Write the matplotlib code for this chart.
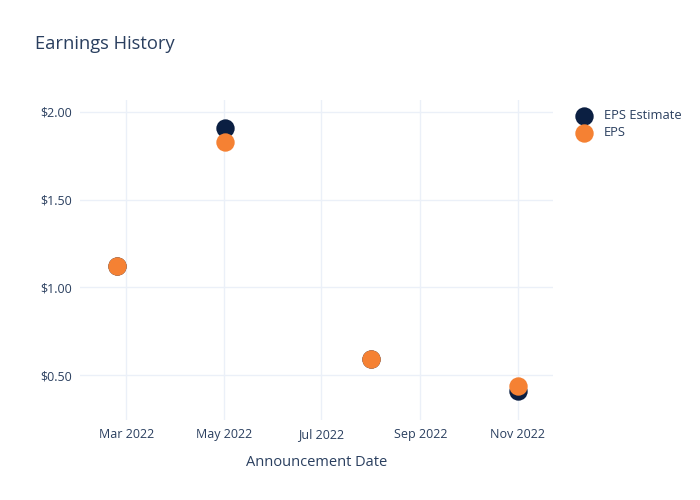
import pandas as pd
import matplotlib.pyplot as plt
import matplotlib.dates as mdates
from matplotlib.ticker import FuncFormatter

dates = ["2022-02-23", "2022-05-02", "2022-08-01", "2022-11-01"]
eps_estimate = [1.12, 1.91, 0.59, 0.41]
eps_actual = [1.12, 1.83, 0.59, 0.44]

text_color = "#2a3f5f"
grid_color = "#ebf0f8"
navy = "#0b1f42"
orange = "#f58133"

plt.rcParams["font.family"] = ["Open Sans", "DejaVu Sans"]

x = pd.to_datetime(dates)

fig = plt.figure(figsize=(7, 5), dpi=100)
ax = fig.add_axes([80 / 700, 80 / 500, 473 / 700, 320 / 500])

ax.scatter(x, eps_estimate, s=175, color=navy, label="EPS Estimate", zorder=3, linewidths=0)
ax.scatter(x, eps_actual, s=175, color=orange, label="EPS", zorder=4, linewidths=0)

ax.set_xlim(pd.Timestamp("2022-01-31"), pd.Timestamp("2022-11-23"))
ax.set_ylim(0.244, 2.068)

ax.xaxis.set_major_locator(mdates.MonthLocator(bymonth=[3, 5, 7, 9, 11]))
ax.xaxis.set_major_formatter(mdates.DateFormatter("%b %Y"))
ax.set_yticks([0.5, 1.0, 1.5, 2.0])
ax.yaxis.set_major_formatter(FuncFormatter(lambda v, p: f"${v:.2f}"))

ax.grid(True, color=grid_color, linewidth=1)
ax.set_axisbelow(True)
for s in ax.spines.values():
    s.set_visible(False)
ax.tick_params(length=0, colors=text_color, labelsize=9, pad=6)

ax.set_xlabel("Announcement Date", color=text_color, fontsize=10.5, labelpad=10)
fig.text(35 / 700, 1 - 44 / 500, "Earnings History", color=text_color, fontsize=13.2, va="center")

leg = ax.legend(loc="upper left", bbox_to_anchor=(1.02, 1.0), frameon=False,
                fontsize=9.3, labelcolor=text_color, handletextpad=0.5,
                labelspacing=0.3, borderaxespad=0.3)

fig.savefig("out.png", dpi=100, facecolor="white")
